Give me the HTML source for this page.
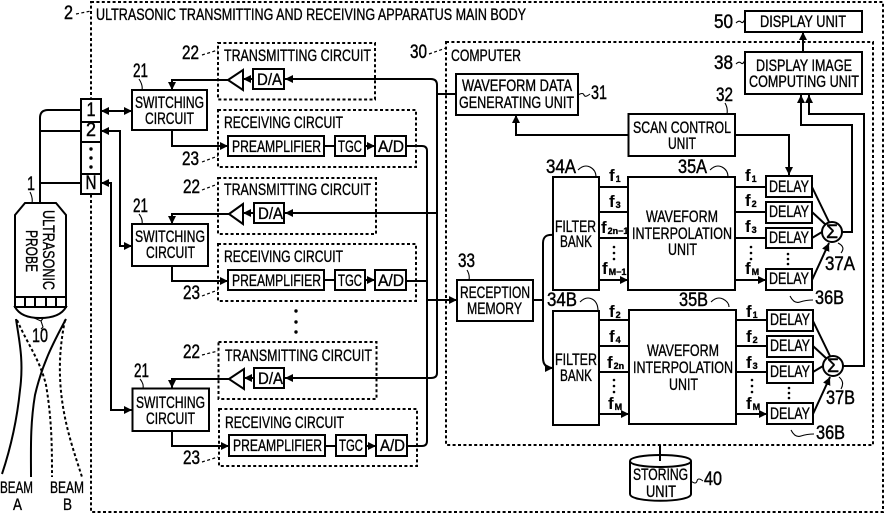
<!DOCTYPE html>
<html><head><meta charset="utf-8"><style>
html,body{margin:0;padding:0;background:#fff}
svg{display:block}
text{font-family:"Liberation Sans",sans-serif;font-size:16.5px;fill:#000;stroke:#000;stroke-width:.35}
.n{font-size:19px;stroke-width:.45}
.s{font-size:9px;stroke-width:.35}
.f{font-size:17px;font-weight:bold;stroke-width:0}
.b{fill:#fff;stroke:#000;stroke-width:2}
.d{fill:none;stroke:#000;stroke-width:2;stroke-dasharray:3 2.4}
.w{fill:none;stroke:#000;stroke-width:2}
.t{fill:none;stroke:#000;stroke-width:1.100}
.e{marker-end:url(#a)}
.x{marker-start:url(#r);marker-end:url(#a)}
</style></head><body>
<svg width="886" height="514" viewBox="0 0 886 514" xmlns="http://www.w3.org/2000/svg">
<defs>
<marker id="a" markerUnits="userSpaceOnUse" markerWidth="9" markerHeight="9" refX="8" refY="4.500" orient="auto"><path d="M0 .5L8 4.500L0 8.500z" fill="#000"/></marker>
<marker id="r" markerUnits="userSpaceOnUse" markerWidth="9" markerHeight="9" refX="1" refY="4.500" orient="auto"><path d="M9 .5L1 4.500L9 8.500z" fill="#000"/></marker>
</defs>

<!-- dashed containers -->
<rect class="d" x="91" y="2" width="792" height="510"/>
<rect class="d" x="446" y="42" width="427" height="403"/>
<rect class="d" x="218" y="43" width="157" height="56.500"/>
<rect class="d" x="218" y="110" width="198" height="57"/>
<rect class="d" x="218" y="178" width="158" height="56"/>
<rect class="d" x="218" y="244" width="198" height="57"/>
<rect class="d" x="218.500" y="342" width="158" height="57"/>
<rect class="d" x="219" y="409" width="198" height="57"/>

<!-- leader ticks -->
<path class="d" style="stroke-width:1.200" d="M76 14L91 11M202 55L218 50M202 162L218 156M202 190L218 184M202 296L218 290M202 355L218 351M202 462L218 457M429 54L446 48"/>
<path class="t" d="M139 79q4 6 3 11M139 214q4 5 3 10M140 379q4 5 3 9M30 192q3 6 2 11M736 23q3-3 5-1t4-3M736 64q3-3 5-1t4-3M578 95q5-3 6 0t6-1M725 103q3 5 2 11M578 170q6-6 12-3t6 10M710 170q6-6 12-3t6 10M467 270q3 5 2 10M580 302q6-6 12-3t6 12M711 302q6-6 12-3t6 8M838 243q8 4 3 10M839 377q6 5 2 12M790 296q4 8 10 6t13-2M791 430q4 8 10 6t13-2M691 481q5 4 6 0t6 0M30 308l2 9 9 4 2 6-2 2M41 308l3 9-3 4"/>

<!-- probe wiring -->
<path class="w" d="M40 203V118q0-8 8-8H81M40 131H81M40 183H81"/>
<path class="w x" d="M101 111H132"/>
<path class="w x" d="M101 131H120V246H132"/>
<path class="w x" d="M101 183H111V410H132"/>

<!-- element stack -->
<rect class="b" x="81" y="99" width="20" height="95"/>
<path class="w" d="M81 122H101M81 142H101M81 174H101"/>
<circle cx="91" cy="149" r="1.700"/><circle cx="91" cy="158" r="1.700"/><circle cx="91" cy="167" r="1.700"/>
<text class="n" x="86.500" y="116" textLength="9" lengthAdjust="spacingAndGlyphs">1</text>
<text class="n" x="86" y="136" textLength="10" lengthAdjust="spacingAndGlyphs">2</text>
<text class="n" x="85.500" y="189" textLength="11" lengthAdjust="spacingAndGlyphs">N</text>

<!-- probe -->
<path class="b" d="M15 215L25 203H56L66 215V297H15z"/>
<path class="b" d="M15 297H66V307H15z"/>
<path class="w" d="M25 297V307M35 297V307M46 297V307M56 297V307"/>
<path class="b" d="M15 307H66Q60 318 40 318Q21 318 15 307z"/>
<text transform="translate(43 210) rotate(90)" textLength="80" lengthAdjust="spacingAndGlyphs">ULTRASONIC</text>
<text transform="translate(26 230) rotate(90)" textLength="42" lengthAdjust="spacingAndGlyphs">PROBE</text>

<!-- beams -->
<path class="w" d="M16 319C19 340 24 360 20 390C17 420 10 450 2 474"/>
<path class="w" d="M66 319C52 345 42 365 35 395C30 425 31 450 31 477"/>
<path class="d" d="M17 320C28 345 40 360 46 385C52 420 52 450 52 477"/>
<path class="d" d="M65 320C60 345 58 370 62 400C66 430 75 455 82 477"/>

<!-- bus wiring -->
<path class="w" d="M437 373V85q0-6-6-6H290"/>
<path class="w e" d="M290 79H285"/>
<path class="w" d="M437 94H456"/>
<path class="w e" d="M436 213H285"/>
<path class="w e" d="M437 373q0 5-6 5H285"/>
<path class="w" d="M406 146H422q5 0 5 5V441q0 5-5 5H407M406 281H427"/>
<path class="w e" d="M427 300H457"/>

<!-- channel 1 -->
<rect class="b" x="132" y="90" width="75" height="40"/>
<path class="w e" d="M228 80H172V90"/>
<path class="w e" d="M172 130V146H228"/>
<path class="b" d="M228 80L243 70V90z"/>
<path class="w e" d="M253 79H243"/>
<rect class="b" x="253" y="69" width="31" height="20"/>
<rect class="b" x="228" y="136" width="96" height="20"/>
<rect class="b" x="335" y="136" width="30" height="20"/>
<rect class="b" x="375" y="136" width="31" height="20"/>
<path class="w e" d="M324 146H335M365 146H375"/>

<!-- channel 2 -->
<rect class="b" x="132" y="224" width="76" height="42"/>
<path class="w e" d="M229 214H172V224"/>
<path class="w e" d="M172 266V281H228"/>
<path class="b" d="M229 214L243 204V224z"/>
<path class="w e" d="M254 213H243"/>
<rect class="b" x="254" y="203" width="30" height="20"/>
<rect class="b" x="228" y="270" width="96" height="20"/>
<rect class="b" x="335" y="270" width="30" height="20"/>
<rect class="b" x="375" y="270" width="31" height="20"/>
<path class="w e" d="M324 280H335M365 280H375"/>

<!-- channel 3 -->
<rect class="b" x="132.500" y="388.500" width="76.500" height="42.500"/>
<path class="w e" d="M229 379H172V388"/>
<path class="w e" d="M172 431V446H229"/>
<path class="b" d="M229 379L244 369V389z"/>
<path class="w e" d="M254 378H244"/>
<rect class="b" x="254" y="368" width="30" height="20"/>
<rect class="b" x="229" y="435" width="96" height="21"/>
<rect class="b" x="336" y="435" width="30" height="21"/>
<rect class="b" x="376" y="435" width="31" height="21"/>
<path class="w e" d="M325 446H336M366 446H376"/>
<circle cx="296" cy="311" r="1.700"/><circle cx="296" cy="322" r="1.700"/><circle cx="296" cy="332" r="1.700"/>

<!-- computer blocks -->
<rect class="b" x="456" y="74" width="122" height="41"/>
<rect class="b" x="628.500" y="114" width="106.500" height="42"/>
<rect class="b" x="745" y="11" width="117" height="21"/>
<rect class="b" x="745" y="52" width="117" height="42"/>
<rect class="b" x="457" y="280" width="76" height="41"/>
<rect class="b" x="553" y="177" width="46" height="113"/>
<rect class="b" x="553" y="311" width="46" height="114"/>
<rect class="b" x="628" y="177" width="107" height="113"/>
<rect class="b" x="629" y="310" width="107" height="114"/>
<path class="w e" d="M803 52V32"/>
<path class="w e" d="M628 135H516V115"/>
<path class="w e" d="M735 135H789V175"/>
<path class="w e" d="M842 232H852V125H801V95"/>
<path class="w e" d="M843 366H864V114H809V95"/>
<path class="w" d="M533 300H543"/>
<path class="w e" d="M553 235Q543 234 543 243V358Q543 368 553 368"/>

<path class="w e" d="M599 187H628M599 212H628M599 238H628M599 280H628"/>
<path class="w e" d="M599 320H629M599 346H629M599 372H629M599 414H629"/>
<path class="w e" d="M735 187H766M735 212H766M735 238H766M735 280H766"/>
<path class="w e" d="M736 320H767M736 346H767M736 372H767M736 414H767"/>

<rect class="b" x="766" y="176" width="46" height="21"/>
<rect class="b" x="766" y="202" width="46" height="21"/>
<rect class="b" x="766" y="228" width="46" height="20"/>
<rect class="b" x="766" y="269" width="46" height="21"/>
<rect class="b" x="767" y="310" width="46" height="21"/>
<rect class="b" x="767" y="336" width="46" height="21"/>
<rect class="b" x="767" y="362" width="46" height="21"/>
<rect class="b" x="767" y="403" width="46" height="21"/>
<path class="w e" d="M812 187L829 222M812 212L826 225M812 238L822 232M812 280L829 243"/>
<path class="w e" d="M813 321L830 356M813 346L827 359M813 372L823 366M813 414L830 377"/>
<circle class="b" cx="832" cy="232" r="10"/>
<circle class="b" cx="833" cy="366" r="10"/>
<text class="n" x="826" y="238" textLength="12" lengthAdjust="spacingAndGlyphs">Σ</text>
<text class="n" x="827" y="372" textLength="12" lengthAdjust="spacingAndGlyphs">Σ</text>
<circle cx="788" cy="254" r="1.300"/><circle cx="788" cy="259" r="1.300"/><circle cx="788" cy="264" r="1.300"/>
<circle cx="789" cy="388" r="1.300"/><circle cx="789" cy="393" r="1.300"/><circle cx="789" cy="398" r="1.300"/>

<!-- storing unit -->
<path class="b" d="M630 461C630 453 691 453 691 461V494C691 503 630 503 630 494z"/>
<path class="w" d="M630 461C630 469 691 469 691 461"/>
<path class="w" d="M660 445V461"/>

<!-- labels -->
<text class="n" x="64" y="19" textLength="9" lengthAdjust="spacingAndGlyphs">2</text>
<text x="96" y="20" textLength="430" lengthAdjust="spacingAndGlyphs">ULTRASONIC TRANSMITTING AND RECEIVING APPARATUS MAIN BODY</text>
<text class="n" x="182" y="59" textLength="17" lengthAdjust="spacingAndGlyphs">22</text>
<text class="n" x="182" y="165" textLength="17" lengthAdjust="spacingAndGlyphs">23</text>
<text class="n" x="183" y="193" textLength="17" lengthAdjust="spacingAndGlyphs">22</text>
<text class="n" x="183" y="299" textLength="17" lengthAdjust="spacingAndGlyphs">23</text>
<text class="n" x="183" y="358" textLength="17" lengthAdjust="spacingAndGlyphs">22</text>
<text class="n" x="183" y="464" textLength="17" lengthAdjust="spacingAndGlyphs">23</text>
<text class="n" x="133" y="77" textLength="15" lengthAdjust="spacingAndGlyphs">21</text>
<text class="n" x="133" y="212" textLength="15" lengthAdjust="spacingAndGlyphs">21</text>
<text class="n" x="134" y="377" textLength="15" lengthAdjust="spacingAndGlyphs">21</text>
<text class="n" x="27" y="190" textLength="8" lengthAdjust="spacingAndGlyphs">1</text>
<text class="n" x="32" y="342" textLength="16" lengthAdjust="spacingAndGlyphs">10</text>

<text x="224" y="61" textLength="147" lengthAdjust="spacingAndGlyphs">TRANSMITTING CIRCUIT</text>
<text x="224" y="195" textLength="147" lengthAdjust="spacingAndGlyphs">TRANSMITTING CIRCUIT</text>
<text x="225" y="361" textLength="147" lengthAdjust="spacingAndGlyphs">TRANSMITTING CIRCUIT</text>
<text x="224" y="128" textLength="119" lengthAdjust="spacingAndGlyphs">RECEIVING CIRCUIT</text>
<text x="224" y="262" textLength="119" lengthAdjust="spacingAndGlyphs">RECEIVING CIRCUIT</text>
<text x="225" y="428" textLength="119" lengthAdjust="spacingAndGlyphs">RECEIVING CIRCUIT</text>

<text x="135" y="108" textLength="69" lengthAdjust="spacingAndGlyphs">SWITCHING</text>
<text x="145" y="124" textLength="49" lengthAdjust="spacingAndGlyphs">CIRCUIT</text>
<text x="135" y="242" textLength="70" lengthAdjust="spacingAndGlyphs">SWITCHING</text>
<text x="146" y="258" textLength="49" lengthAdjust="spacingAndGlyphs">CIRCUIT</text>
<text x="136" y="408" textLength="69" lengthAdjust="spacingAndGlyphs">SWITCHING</text>
<text x="146" y="424" textLength="49" lengthAdjust="spacingAndGlyphs">CIRCUIT</text>

<text x="257" y="85" textLength="25" lengthAdjust="spacingAndGlyphs">D/A</text>
<text x="258" y="219" textLength="25" lengthAdjust="spacingAndGlyphs">D/A</text>
<text x="258" y="384" textLength="25" lengthAdjust="spacingAndGlyphs">D/A</text>
<text x="232" y="152" textLength="89" lengthAdjust="spacingAndGlyphs">PREAMPLIFIER</text>
<text x="338" y="152" textLength="24" lengthAdjust="spacingAndGlyphs">TGC</text>
<text x="378" y="152" textLength="26" lengthAdjust="spacingAndGlyphs">A/D</text>
<text x="232" y="286" textLength="89" lengthAdjust="spacingAndGlyphs">PREAMPLIFIER</text>
<text x="338" y="286" textLength="24" lengthAdjust="spacingAndGlyphs">TGC</text>
<text x="378" y="286" textLength="26" lengthAdjust="spacingAndGlyphs">A/D</text>
<text x="233" y="451" textLength="89" lengthAdjust="spacingAndGlyphs">PREAMPLIFIER</text>
<text x="339" y="451" textLength="24" lengthAdjust="spacingAndGlyphs">TGC</text>
<text x="380" y="451" textLength="25" lengthAdjust="spacingAndGlyphs">A/D</text>

<text x="0" y="493" textLength="33" lengthAdjust="spacingAndGlyphs">BEAM</text>
<text x="13" y="510" textLength="9" lengthAdjust="spacingAndGlyphs">A</text>
<text x="50" y="493" textLength="34" lengthAdjust="spacingAndGlyphs">BEAM</text>
<text x="63" y="510" textLength="9" lengthAdjust="spacingAndGlyphs">B</text>

<text class="n" x="410" y="58" textLength="17" lengthAdjust="spacingAndGlyphs">30</text>
<text x="451" y="61" textLength="70" lengthAdjust="spacingAndGlyphs">COMPUTER</text>
<text x="462" y="91" textLength="110" lengthAdjust="spacingAndGlyphs">WAVEFORM DATA</text>
<text x="459" y="108" textLength="115" lengthAdjust="spacingAndGlyphs">GENERATING UNIT</text>
<text class="n" x="591" y="99" textLength="16" lengthAdjust="spacingAndGlyphs">31</text>
<text class="n" x="714" y="28" textLength="19" lengthAdjust="spacingAndGlyphs">50</text>
<text x="760" y="27" textLength="86" lengthAdjust="spacingAndGlyphs">DISPLAY UNIT</text>
<text class="n" x="714" y="69" textLength="19" lengthAdjust="spacingAndGlyphs">38</text>
<text x="756" y="71" textLength="96" lengthAdjust="spacingAndGlyphs">DISPLAY IMAGE</text>
<text x="749" y="87" textLength="110" lengthAdjust="spacingAndGlyphs">COMPUTING UNIT</text>
<text class="n" x="716" y="101" textLength="17" lengthAdjust="spacingAndGlyphs">32</text>
<text x="633" y="133" textLength="98" lengthAdjust="spacingAndGlyphs">SCAN CONTROL</text>
<text x="668" y="149" textLength="28" lengthAdjust="spacingAndGlyphs">UNIT</text>

<text class="n" x="546" y="173" textLength="30" lengthAdjust="spacingAndGlyphs">34A</text>
<text class="n" x="678" y="173" textLength="29" lengthAdjust="spacingAndGlyphs">35A</text>
<text class="n" x="547" y="306" textLength="30" lengthAdjust="spacingAndGlyphs">34B</text>
<text class="n" x="679" y="306" textLength="29" lengthAdjust="spacingAndGlyphs">35B</text>
<text class="n" x="458" y="267" textLength="17" lengthAdjust="spacingAndGlyphs">33</text>
<text x="460" y="298" textLength="70" lengthAdjust="spacingAndGlyphs">RECEPTION</text>
<text x="467" y="314" textLength="55" lengthAdjust="spacingAndGlyphs">MEMORY</text>

<text x="555" y="232" textLength="41" lengthAdjust="spacingAndGlyphs">FILTER</text>
<text x="560" y="247" textLength="32" lengthAdjust="spacingAndGlyphs">BANK</text>
<text x="555" y="365" textLength="42" lengthAdjust="spacingAndGlyphs">FILTER</text>
<text x="560" y="381" textLength="32" lengthAdjust="spacingAndGlyphs">BANK</text>
<text x="646" y="222" textLength="72" lengthAdjust="spacingAndGlyphs">WAVEFORM</text>
<text x="632" y="239" textLength="100" lengthAdjust="spacingAndGlyphs">INTERPOLATION</text>
<text x="668" y="255" textLength="29" lengthAdjust="spacingAndGlyphs">UNIT</text>
<text x="647" y="356" textLength="72" lengthAdjust="spacingAndGlyphs">WAVEFORM</text>
<text x="633" y="373" textLength="100" lengthAdjust="spacingAndGlyphs">INTERPOLATION</text>
<text x="669" y="390" textLength="29" lengthAdjust="spacingAndGlyphs">UNIT</text>

<text x="769" y="192" textLength="40" lengthAdjust="spacingAndGlyphs">DELAY</text>
<text x="769" y="217" textLength="40" lengthAdjust="spacingAndGlyphs">DELAY</text>
<text x="769" y="243" textLength="40" lengthAdjust="spacingAndGlyphs">DELAY</text>
<text x="769" y="284" textLength="40" lengthAdjust="spacingAndGlyphs">DELAY</text>
<text x="770" y="325" textLength="40" lengthAdjust="spacingAndGlyphs">DELAY</text>
<text x="770" y="351" textLength="40" lengthAdjust="spacingAndGlyphs">DELAY</text>
<text x="770" y="377" textLength="40" lengthAdjust="spacingAndGlyphs">DELAY</text>
<text x="770" y="419" textLength="40" lengthAdjust="spacingAndGlyphs">DELAY</text>

<text class="n" x="825" y="270" textLength="30" lengthAdjust="spacingAndGlyphs">37A</text>
<text class="n" x="826" y="404" textLength="29" lengthAdjust="spacingAndGlyphs">37B</text>
<text class="n" x="815" y="304" textLength="29" lengthAdjust="spacingAndGlyphs">36B</text>
<text class="n" x="816" y="439" textLength="29" lengthAdjust="spacingAndGlyphs">36B</text>
<text x="633" y="480" textLength="55" lengthAdjust="spacingAndGlyphs">STORING</text>
<text x="646" y="497" textLength="30" lengthAdjust="spacingAndGlyphs">UNIT</text>
<text class="n" x="704" y="485" textLength="18" lengthAdjust="spacingAndGlyphs">40</text>

<!-- f labels -->
<text class="f" x="609" y="181">f<tspan class="s" dx="1" dy="1">1</tspan></text>
<text class="f" x="609" y="207">f<tspan class="s" dx="1" dy="1">3</tspan></text>
<text class="f" x="601" y="233">f<tspan class="s" dx="1" dy="1">2n−1</tspan></text>
<text class="f" x="602" y="274">f<tspan class="s" dx="1" dy="1">M−1</tspan></text>
<text class="f" x="745" y="181">f<tspan class="s" dx="1" dy="1">1</tspan></text>
<text class="f" x="745" y="206">f<tspan class="s" dx="1" dy="1">2</tspan></text>
<text class="f" x="745" y="232">f<tspan class="s" dx="1" dy="1">3</tspan></text>
<text class="f" x="745" y="274">f<tspan class="s" dx="1" dy="1">M</tspan></text>
<text class="f" x="609" y="317">f<tspan class="s" dx="1" dy="1">2</tspan></text>
<text class="f" x="609" y="342">f<tspan class="s" dx="1" dy="1">4</tspan></text>
<text class="f" x="607" y="368">f<tspan class="s" dx="1" dy="1">2n</tspan></text>
<text class="f" x="608" y="409">f<tspan class="s" dx="1" dy="1">M</tspan></text>
<text class="f" x="746" y="317">f<tspan class="s" dx="1" dy="1">1</tspan></text>
<text class="f" x="746" y="342">f<tspan class="s" dx="1" dy="1">2</tspan></text>
<text class="f" x="746" y="368">f<tspan class="s" dx="1" dy="1">3</tspan></text>
<text class="f" x="746" y="409">f<tspan class="s" dx="1" dy="1">M</tspan></text>
<circle cx="614" cy="247" r="1.300"/><circle cx="614" cy="253" r="1.300"/><circle cx="614" cy="259" r="1.300"/>
<circle cx="751" cy="247" r="1.300"/><circle cx="751" cy="253" r="1.300"/><circle cx="751" cy="259" r="1.300"/>
<circle cx="614" cy="380" r="1.300"/><circle cx="614" cy="386" r="1.300"/><circle cx="614" cy="392" r="1.300"/>
<circle cx="752" cy="380" r="1.300"/><circle cx="752" cy="386" r="1.300"/><circle cx="752" cy="392" r="1.300"/>
</svg>
</body></html>
